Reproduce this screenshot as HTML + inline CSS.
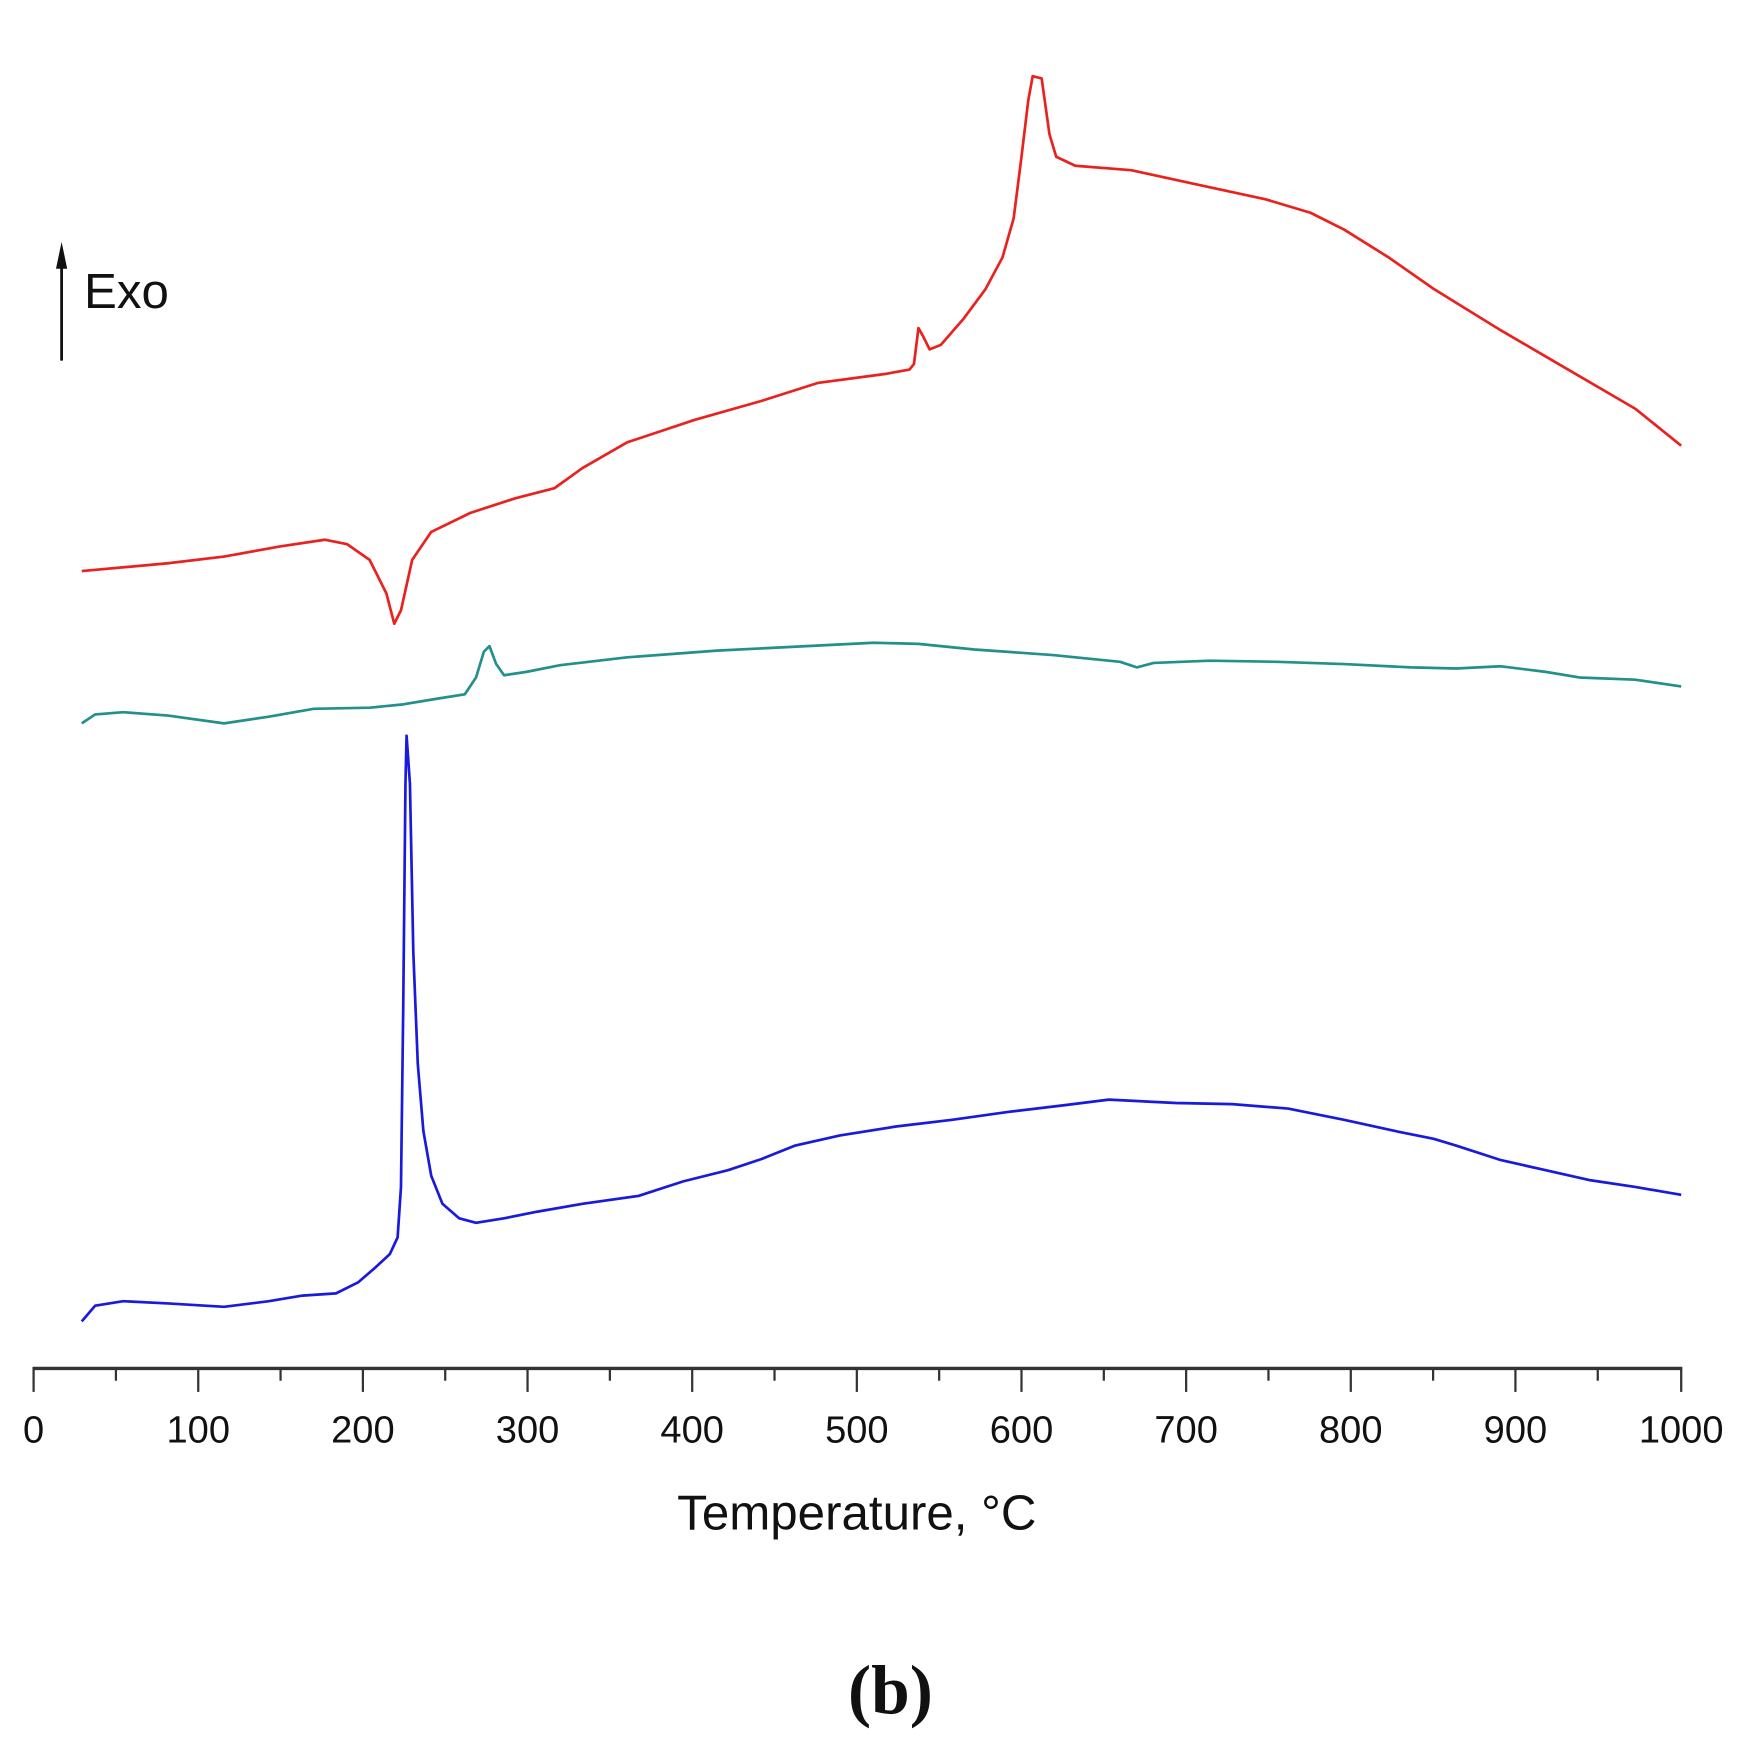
<!DOCTYPE html>
<html><head><style>
html,body{margin:0;padding:0;background:#fff;}
svg{display:block;}
</style></head><body>
<svg width="1754" height="1748" viewBox="0 0 1566 1561" preserveAspectRatio="none" xmlns="http://www.w3.org/2000/svg">
<rect width="1566" height="1561" fill="#fff"/>
<g fill="none" stroke-width="2.4" stroke-linejoin="round">
<polyline stroke="#e8231f" points="73,510 150,503 200,497 250,488 290,482 310,486 330,500 345,530 352,557 358,545 368,500 385,475 420,458 460,445 495,436 520,418 560,395 620,375 680,358 730,342 790,334 812,330 816,325 820,293 824,300 830,312 840,308 860,285 880,258 895,230 905,195 912,140 918,90 922,68 930,70 937,120 943,140 960,148 1010,152 1070,165 1130,178 1170,190 1200,205 1240,230 1280,258 1340,295 1400,330 1460,365 1501,398"/>
<polyline stroke="#23908a" points="73,646 85,638 110,636 150,639 200,646 240,640 280,633 330,632 360,629 390,624 415,620 425,605 432,582 437,577 443,593 450,603 470,600 500,594 560,587 640,581 720,577 780,574 820,575 870,580 940,585 1000,591 1015,596 1030,592 1080,590 1140,591 1200,593 1260,596 1300,597 1340,595 1380,600 1410,605 1460,607 1501,613"/>
<polyline stroke="#1a1adc" points="73,1180 85,1166 110,1162 150,1164 200,1167 240,1162 270,1157 300,1155 320,1145 335,1132 348,1120 355,1105 358,1060 360,900 362,700 363,657 366,700 369,850 373,950 378,1010 385,1050 395,1075 410,1088 425,1092 450,1088 480,1082 520,1075 570,1068 610,1055 650,1045 680,1035 710,1023 750,1014 800,1006 850,1000 900,993 950,987 990,982 1050,985 1100,986 1150,990 1200,1000 1250,1011 1280,1017 1300,1023 1340,1036 1380,1045 1420,1054 1460,1060 1501,1067"/>
</g>
<line x1="29" y1="1222" x2="1502" y2="1222" stroke="#333" stroke-width="3"/>
<g stroke="#333" stroke-width="2">
<line x1="30" y1="1222" x2="30" y2="1243"/><line x1="103.5" y1="1222" x2="103.5" y2="1233"/>
<line x1="177" y1="1222" x2="177" y2="1243"/><line x1="250.5" y1="1222" x2="250.5" y2="1233"/>
<line x1="324" y1="1222" x2="324" y2="1243"/><line x1="397.5" y1="1222" x2="397.5" y2="1233"/>
<line x1="471" y1="1222" x2="471" y2="1243"/><line x1="544.5" y1="1222" x2="544.5" y2="1233"/>
<line x1="618" y1="1222" x2="618" y2="1243"/><line x1="691.5" y1="1222" x2="691.5" y2="1233"/>
<line x1="765" y1="1222" x2="765" y2="1243"/><line x1="838.5" y1="1222" x2="838.5" y2="1233"/>
<line x1="912" y1="1222" x2="912" y2="1243"/><line x1="985.5" y1="1222" x2="985.5" y2="1233"/>
<line x1="1059" y1="1222" x2="1059" y2="1243"/><line x1="1132.5" y1="1222" x2="1132.5" y2="1233"/>
<line x1="1206" y1="1222" x2="1206" y2="1243"/><line x1="1279.5" y1="1222" x2="1279.5" y2="1233"/>
<line x1="1353" y1="1222" x2="1353" y2="1243"/><line x1="1426.5" y1="1222" x2="1426.5" y2="1233"/>
<line x1="1501" y1="1222" x2="1501" y2="1243"/>
</g>
<g font-family="Liberation Sans, sans-serif" font-size="34" fill="#111" text-anchor="middle">
<text x="30" y="1288">0</text><text x="177" y="1288">100</text><text x="324" y="1288">200</text>
<text x="471" y="1288">300</text><text x="618" y="1288">400</text><text x="765" y="1288">500</text>
<text x="912" y="1288">600</text><text x="1059" y="1288">700</text><text x="1206" y="1288">800</text>
<text x="1353" y="1288">900</text><text x="1501" y="1288">1000</text>
<text x="765" y="1366" font-size="44">Temperature, °C</text>
</g>
<line x1="55" y1="322" x2="55" y2="236" stroke="#111" stroke-width="2.5"/>
<polygon points="55,216 50,240 60,240" fill="#111"/>
<text x="75" y="275" font-family="Liberation Sans, sans-serif" font-size="44" fill="#111">Exo</text>
<text x="795" y="1530" font-family="Liberation Serif, serif" font-size="62" font-weight="bold" text-anchor="middle" fill="#111">(b)</text>
</svg>
</body></html>
